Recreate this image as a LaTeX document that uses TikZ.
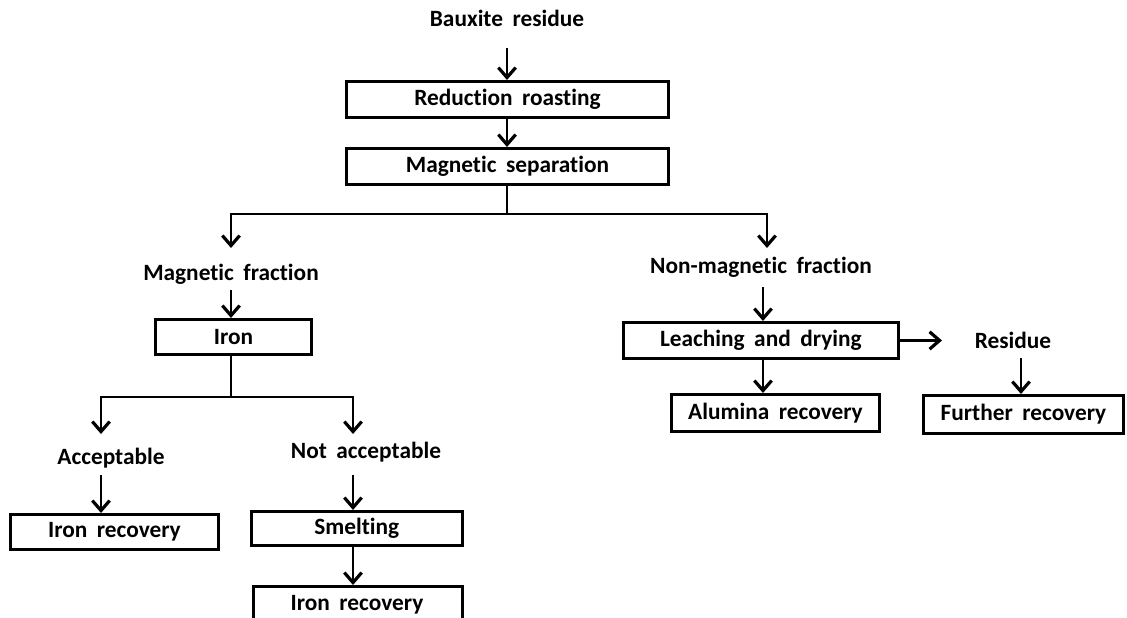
\documentclass[tikz,border=0pt]{standalone}
\usepackage{fontspec}
\setmainfont{Carlito}[Ligatures={NoCommon},WordSpace={1.8}]
\usetikzlibrary{arrows.meta}
\begin{document}
\begin{tikzpicture}[x=0.75pt,y=-0.75pt,
  font=\fontsize{17.5}{20}\selectfont\bfseries,
  lbl/.style={inner sep=0pt, anchor=center},
  box/.style={draw, line width=2.2pt, inner sep=0pt, anchor=north west},
  conn/.style={line width=2.2pt},
  arr/.style={conn, -{Straight Barb[length=7.5pt,width=13pt,line width=2.4pt]}},
]
\useasboundingbox (0,0) rectangle (1127,617);
% labels
\node[lbl] (baux) at (507,18) {Bauxite residue};
\node[box, minimum width=241.5pt, minimum height=27pt] (red) at (345,80) {};
\node at (red.center) {Reduction roasting};
\node[box, minimum width=241.5pt, minimum height=27pt] (mag) at (345,147) {};
\node at (mag.center) {Magnetic separation};
\node[lbl] (magf) at (231,274) {Magnetic fraction};
\node[lbl] (nonm) at (761,267) {Non-magnetic fraction};
\node[box, minimum width=117pt, minimum height=26.25pt] (iron) at (154,318) {};
\node at (iron.center) {Iron};
\node[lbl] (acc) at (111,458) {Acceptable};
\node[lbl] (nacc) at (366,452) {Not acceptable};
\node[box, minimum width=156pt, minimum height=26.25pt] (ir1) at (9,513) {};
\node at (ir1.center) {Iron recovery};
\node[box, minimum width=158pt, minimum height=25.5pt] (smelt) at (250,510) {};
\node at (smelt.center) {Smelting};
\node[box, minimum width=156.75pt, minimum height=36pt] (ir2) at (252,585) {};
\node at (357,605) {Iron recovery};
\node[box, minimum width=206pt, minimum height=27pt] (leach) at (622,321) {};
\node at (leach.center) {Leaching and drying};
\node[lbl] (resid) at (1013,340) {Residue};
\node[box, minimum width=156pt, minimum height=27.75pt] (alum) at (670,393) {};
\node at (alum.center) {Alumina recovery};
\node[box, minimum width=150pt, minimum height=28.5pt] (furth) at (922,394) {};
\node at (furth.center) {Further recovery};
% coordinates
\coordinate (s1) at (507,48);
\coordinate (j1) at (507,214);
\coordinate (j1l) at (231,214);
\coordinate (j1r) at (767,214);
\coordinate (ml) at (231,248);
\coordinate (mr) at (767,248);
\coordinate (j2) at (231,397);
\coordinate (j2l) at (101,397);
\coordinate (j2r) at (353,397);
\coordinate (al) at (101,434);
\coordinate (ar) at (353,434);
\coordinate (resend) at (942,339);
% connectors
\draw[arr] (s1) -- (red.north -| s1);
\draw[arr] (red.south -| s1) -- (mag.north -| s1);
\draw[conn] (mag.south -| j1) -- (j1);
\draw[arr] (j1) -- (j1l) -- (ml);
\draw[arr] (j1) -- (j1r) -- (mr);
\draw[arr] (231,290) -- (iron.north -| 231,0);
\draw[conn] (iron.south -| j2) -- (j2);
\draw[arr] (j2) -- (j2l) -- (al);
\draw[arr] (j2) -- (j2r) -- (ar);
\draw[arr] (101,475) -- (ir1.north -| 101,0);
\draw[arr] (353,475) -- (smelt.north -| 353,0);
\draw[arr] (smelt.south -| 353,0) -- (ir2.north -| 353,0);
\draw[arr] (763,287) -- (leach.north -| 763,0);
\draw[arr] (leach.south -| 763,0) -- (alum.north -| 763,0);
\draw[arr] (leach.east) -- (leach.east -| resend);
\draw[arr] (1021,358) -- (furth.north -| 1021,0);
\end{tikzpicture}
\end{document}
